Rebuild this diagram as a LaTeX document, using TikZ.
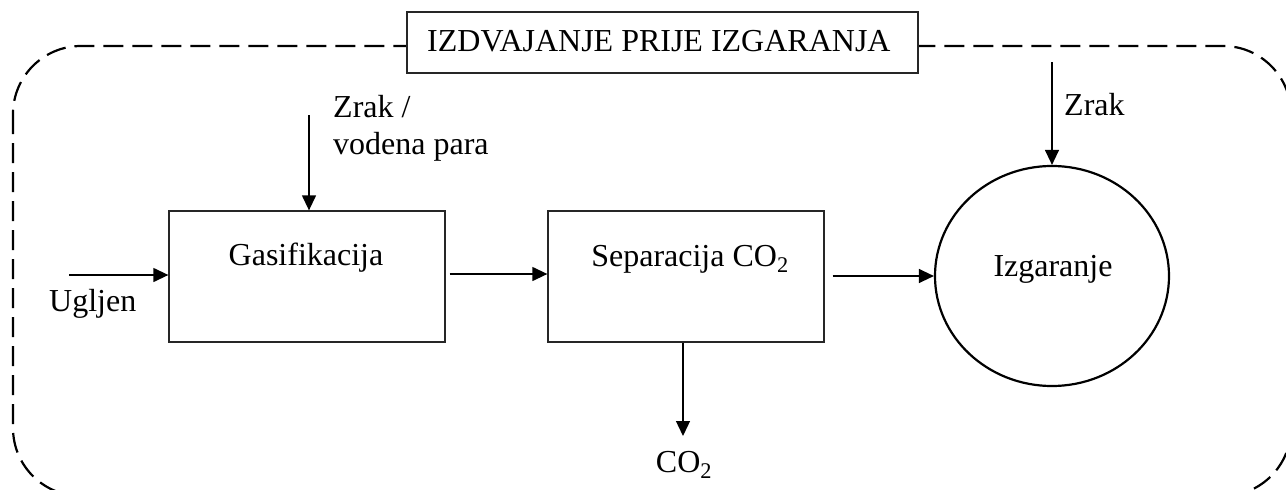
\documentclass[tikz,border=0pt]{standalone}
\usepackage{fontspec}
\setmainfont{Liberation Serif}
\usetikzlibrary{arrows.meta,shapes.geometric}
\begin{document}
\begin{tikzpicture}[x=1pt,y=-1pt,
  every node/.style={font=\fontsize{32}{38}\selectfont},
  box/.style={draw=black!85, line width=1.3pt, fill=white, inner sep=0pt},
  lbl/.style={inner sep=0pt, anchor=base},
  flow/.style={line width=1.3pt, -{Triangle[length=15pt,width=14pt]}},
  frame/.style={line width=2.2pt, dash pattern=on 20pt off 9pt, rounded corners=68pt}]
\useasboundingbox (0,0) rectangle (1286,490);
\begin{scope}
\clip (0,0) rectangle (1286,490);
\draw[frame] (13,46) rectangle (1291,496);
\end{scope}
% title
\node[box, minimum width=511pt, minimum height=61pt] (title) at (662.5,42.5) {};
\node[lbl, anchor=base west] (titletxt) at (427,51) {IZDVAJANJE PRIJE IZGARANJA};
% process boxes
\node[box, minimum width=276pt, minimum height=131pt] (gas) at (307,276.5) {};
\node[lbl] (gastxt) at (306,265) {Gasifikacija};
\node[box, minimum width=276pt, minimum height=131pt] (sep) at (686,276.5) {};
\node[lbl] (septxt) at (690,266) {Separacija CO\textsubscript{2}};
\node[draw, line width=2.2pt, ellipse, minimum width=234pt, minimum height=220pt, inner sep=0pt] (izg) at (1052,276) {};
\node[lbl] (izgtxt) at (1053,276) {Izgaranje};
% free ends
\coordinate (uin) at (69,275);
\coordinate (zin) at (309,115);
\coordinate (zin2) at (1052,62);
\coordinate (co2out) at (683,436);
% labels
\node[lbl, anchor=base west] (ugljen) at (49,311) {Ugljen};
\node[lbl, anchor=base west] (zrak1) at (333,117) {Zrak /};
\node[lbl, anchor=base west] (vodena) at (333,154) {vodena para};
\node[lbl, anchor=base west] (zrak2) at (1064,115) {Zrak};
\node[lbl] (co2) at (684,472) {CO\textsubscript{2}};
% connectors
\draw[flow] (uin) -- (uin -| gas.west);
\draw[flow] (zin) -- (zin |- gas.north);
\draw[flow] ([xshift=4pt]gas.east |- 0,274) -- (sep.west |- 0,274);
\draw[flow] ([xshift=8pt]sep.east |- 0,276) -- (izg.west |- 0,276);
\draw[flow] (zin2) -- (izg.north);
\draw[flow] (sep.south -| co2out) -- (co2out);
\end{tikzpicture}
\end{document}
